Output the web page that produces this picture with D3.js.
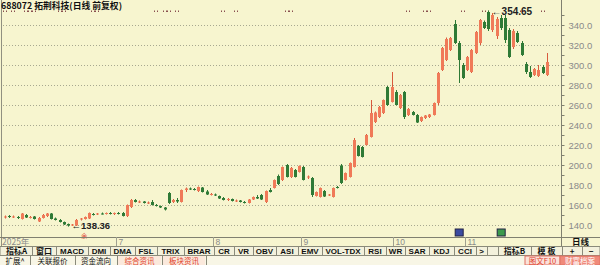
<!DOCTYPE html>
<meta charset="utf-8">
<style>
body { margin: 0; background: #f7f5cf; }
svg { display: block; font-family: "Liberation Sans", Arial, sans-serif; }
.cn { font-family: "Noto Sans CJK SC", sans-serif; }
</style>
<body>
<svg id="chart"></svg>
<script src="https://d3js.org/d3.v7.min.js"></script>
<script>

var width = 600,
    height = 265;

// trading calendar (weekdays minus exchange holidays)
var startDate = "2025-05-22",
    endDate = "2025-11-28";
var holidays = ["2025-06-02", "2025-10-01", "2025-10-02", "2025-10-03", "2025-10-06", "2025-10-07", "2025-10-08"];

var opens  = [148,149,148,148,146,150,147.5,148.5,143.5,147,149,151.5,146.5,145,143,141,139.5,139.5,145.5,146,
              146.5,151,150.5,151.5,151,152,151,152,152,149,158,165,163,163.5,162,163,160,159,157.5,172,
              163,165,163,175,176.5,176,174,177.5,173.5,170.5,170.5,169,167,165,166,164,164.5,163,162,165.5,
              168,170,163,175,177,189,185,200,188,195,193,198,188,187,169,168,174,170,168,178,
              199.5,185,188,198,219,218,220,228,243,248,252,278,263,273,257,273,250,253,250,244,
              247,248,250,262,295,305,315,341,322,300,295,293,312,322,343,353,335,329,347,347,
              335,318,332,322,301,293,290,289,298,290];
var highs  = [149.5,150,149.5,149,152,151,149,149,148,151,152,152,147.5,146,143.5,141.5,141,146,147,148.5,
              152.5,152,152,152.5,152.5,153,152.5,153,153,160.5,166,166,164.5,164,163.5,165,161,159.5,158,173,
              166,167,175.5,177.5,177.5,177,178.5,178,175,172,171.5,169.5,168,167,166.5,165.5,165,164,166,168.5,
              170,171,174.5,177,185.5,190.5,198.5,201,198,196,199.5,199,189.5,188,173.5,177.5,175,171,177.5,179,
              201,192.5,202.5,227,220,219,231,265,253.5,259,265.5,279,293,275,271,274,257,254,251,248.5,
              250,251,262.5,293,318,327.5,328,345,324,302,309,316,334,346,344.5,354.65,352,348,350,350,
              337,336,334,324,303,299,297,300,300,312];
var lows   = [146.5,147,147,146,145.5,147,146.5,145.5,143,146.5,148,145.5,144.5,142.5,140,138.36,139,139,144.5,145.5,
              146,149.5,150,150.5,150.5,150.5,150,150.5,148.5,148,157,162.5,162,161.5,161,159.5,158.5,157,154.5,161,
              162,162,162.5,173,175,174.5,173,172.5,170,169.5,169,166,164.5,164,163.5,163,162.5,161.5,161.5,165,
              166,165,162,172.5,176.5,180,184,187.5,187,187.5,192.5,184.5,186,168,168.5,167.5,168,169,167.5,176.5,
              181,184.5,187.5,197.5,208.5,207.5,219.5,227.5,242,247,251,259,262.5,259.5,256,246,249,249.5,242,243,
              246,247,249.5,260,294,304,314,321,282,286,294,292,311,320,336,334,333,326,335,322,
              307,316,322,309,291,287,289,288,291,289];
var closes = [148.5,148,148.5,147.5,151.5,147.5,148,146,147,150,151.5,146,145,143,140.5,139.5,140.5,145,146.5,148,
              152,150.5,151.5,151,152,151,152,151,149,160,165,163,163.5,162,162.5,160,159,157.5,155.5,162,
              165,163.5,175,176.5,176,175.5,178,173,170.5,171,169.5,166.5,165,166,164,164.5,163,162.5,165.5,168,
              166.5,165.5,174,173,185,181,198,188,197,188,199,185,188.5,170,173,177,168.5,170.5,177,177.5,
              182,192,202,225,209,208,230,252,252.5,258,265,260,278,260,270,248,256,250,242.5,248,
              249.5,250.5,262,292,317,326,327,322,305,287,308,315,333,345,337,336,350,346,337,325,
              308,334,323,310,293,288,296,295,292,303];

var yTicks = [140, 160, 180, 200, 220, 240, 260, 280, 300, 320, 340];
var infoMarks = [0, 2, 5, 6, 7, 13, 14, 21, 22, 36, 38, 39, 41, 52, 55, 67, 68, 96, 100, 101, 109, 114, 123, 128];
var btnRow = ["指标A", "窗口", "MACD", "DMI", "DMA", "FSL", "TRIX", "BRAR", "CR", "VR", "OBV", "ASI",
              "EMV", "VOL-TDX", "RSI", "WR", "SAR", "KDJ", "CCI", ">"];
var btnRight = ["指标B", "模 板", "+", "−"];
var tabRow = ["扩展^", "关联报价", "资金流向", "综合资讯", "板块资讯"];
var tabRight = ["图文F10", "财富档案"];

// build the trading day list
var dates = [];
var fmt = d3.timeFormat("%Y-%m-%d");
d3.timeDay.range(new Date(startDate + "T00:00"), d3.timeDay.offset(new Date(endDate + "T00:00"), 1)).forEach(function(d) {
  var wd = d.getDay();
  if (wd === 0 || wd === 6) return;
  if (holidays.indexOf(fmt(d)) >= 0) return;
  dates.push(d);
});

var data = dates.map(function(d, i) {
  return { date: d, i: i, o: opens[i], h: highs[i], l: lows[i], c: closes[i] };
});

var plotRight = 561,
    plotBottom = 237;

var x = d3.scaleBand()
    .domain(d3.range(data.length))
    .range([3, 3 + data.length * 4.2])
    .paddingInner(0.28)
    .paddingOuter(0.14);

var y = d3.scaleLinear()
    .domain([140, 340])
    .range([225, 25]);

var red = "#f07a58", redEdge = "#d85a3c", green = "#2f7a36";

var svg = d3.select("#chart")
    .attr("width", width)
    .attr("height", height);

svg.append("rect")
    .attr("width", width)
    .attr("height", height)
    .attr("fill", "#f7f5cf");

// grid
svg.append("g")
  .selectAll("line")
  .data(yTicks)
  .enter().append("line")
    .attr("x1", 3)
    .attr("x2", plotRight)
    .attr("y1", function(d) { return Math.round(y(d)) + 0.5; })
    .attr("y2", function(d) { return Math.round(y(d)) + 0.5; })
    .attr("stroke", "#a8a890")
    .attr("stroke-width", 1)
    .attr("stroke-dasharray", "1,2");

// left border + right axis
svg.append("line")
    .attr("x1", 1.5).attr("x2", 1.5)
    .attr("y1", 0).attr("y2", height)
    .attr("stroke", "#909080");

var yAxis = d3.axisRight(y)
    .tickValues(d3.range(140, 351, 10))
    .tickSize(3)
    .tickFormat(function(d) { return d % 20 === 0 ? d.toFixed(1) : ""; });

var ax = svg.append("g")
    .attr("transform", "translate(" + (plotRight + 0.5) + ",0)")
    .call(yAxis);
ax.select(".domain").remove();
ax.append("line")
    .attr("y1", 0).attr("y2", plotBottom + 9)
    .attr("stroke", "#808070");
ax.selectAll(".tick line").attr("stroke", "#808070");
ax.selectAll(".tick text")
    .attr("x", 7)
    .attr("fill", "#8a8a8a")
    .attr("font-size", 9.5)
    .attr("font-family", "'Liberation Sans', Arial, sans-serif");

// candles
var candles = svg.append("g")
  .selectAll("g")
  .data(data)
  .enter().append("g");

candles.append("line")
    .attr("x1", function(d) { return Math.round(x(d.i) + x.bandwidth() / 2) + 0.5; })
    .attr("x2", function(d) { return Math.round(x(d.i) + x.bandwidth() / 2) + 0.5; })
    .attr("y1", function(d) { return y(d.h); })
    .attr("y2", function(d) { return y(d.l); })
    .attr("stroke", function(d) { return d.c >= d.o ? redEdge : green; });

candles.append("rect")
    .attr("x", function(d) { return Math.round(x(d.i) + x.bandwidth() / 2) - 1; })
    .attr("width", 3)
    .attr("y", function(d) { return y(Math.max(d.o, d.c)); })
    .attr("height", function(d) { return Math.max(1, Math.abs(y(d.o) - y(d.c))); })
    .attr("fill", function(d) { return d.c >= d.o ? red : green; });

// high / low labels
var hiIdx = d3.maxIndex(data, function(d) { return d.h; }),
    loIdx = d3.minIndex(data, function(d) { return d.l; });

svg.append("text")
    .attr("x", x(hiIdx) + 5)
    .attr("y", y(data[hiIdx].h) + 5)
    .attr("font-size", 10)
    .attr("font-weight", "bold")
    .attr("fill", "#222")
    .text("←" + data[hiIdx].h.toFixed(2));

svg.append("text")
    .attr("x", x(loIdx) + 5)
    .attr("y", y(data[loIdx].l) + 2.5)
    .attr("font-size", 9.5)
    .attr("font-weight", "bold")
    .attr("fill", "#222")
    .text("←" + data[loIdx].l.toFixed(2));

// info markers on top (little dot pairs)
var marks = svg.append("g").attr("fill", "#8a5050");
infoMarks.forEach(function(d) {
  var cx = Math.round(x(d) + x.bandwidth() / 2);
  marks.append("rect").attr("x", cx - 2).attr("y", 10.5).attr("width", 1).attr("height", 1.5);
  marks.append("rect").attr("x", cx + 1).attr("y", 10.5).attr("width", 1).attr("height", 1.5);
});

svg.append("text")
    .attr("class", "cn")
    .attr("x", x(18) + 2)
    .attr("y", 238)
    .attr("font-size", 6)
    .attr("fill", "#e04030")
    .text("余");

[{ i: 108, c: "#3a4aa0" }, { i: 118, c: "#3c9a4c" }].forEach(function(m) {
  svg.append("rect")
      .attr("x", x(m.i) - 2)
      .attr("y", 229)
      .attr("width", 8)
      .attr("height", 7)
      .attr("fill", m.c)
      .attr("stroke", "#224");
});

// title
svg.append("text")
    .attr("class", "cn")
    .attr("x", 1)
    .attr("y", 9)
    .attr("font-size", 8.8)
    .attr("font-weight", "bold")
    .attr("fill", "#111")
    .text("688072 拓荆科技(日线 前复权)");

// date row
svg.append("line")
    .attr("x1", 0).attr("x2", width)
    .attr("y1", plotBottom + 0.5).attr("y2", plotBottom + 0.5)
    .attr("stroke", "#808070");

var monthStarts = data.filter(function(d, i) {
  return i === 0 || d.date.getMonth() !== data[i - 1].date.getMonth();
}).filter(function(d) { return d.date.getMonth() >= 6; });

var dateRow = svg.append("g").attr("fill", "#8a8a8a").attr("font-size", 8.5);
dateRow.append("text")
    .attr("class", "cn")
    .attr("x", 2)
    .attr("y", 244.5)
    .text(d3.timeFormat("%Y")(data[0].date) + "年");

monthStarts.forEach(function(d) {
  var xx = Math.round(x(d.i)) - 0.5;
  dateRow.append("line")
      .attr("x1", xx).attr("x2", xx)
      .attr("y1", plotBottom).attr("y2", 246)
      .attr("stroke", "#a0a090");
  dateRow.append("text")
      .attr("x", xx + 2)
      .attr("y", 244.5)
      .text(d.date.getMonth() + 1);
});

svg.append("text")
    .attr("class", "cn")
    .attr("x", 572)
    .attr("y", 244.5)
    .attr("font-size", 8.5)
    .attr("font-weight", "bold")
    .attr("fill", "#111")
    .text("日线");

// button row
svg.append("rect")
    .attr("x", 0).attr("y", 246.5)
    .attr("width", width).attr("height", 9)
    .attr("fill", "#f3f1dc")
    .attr("stroke", "#8a8a7a");

var btnX = [1, 32, 56, 88, 110, 135, 157, 184, 214, 234, 253, 276, 298, 322, 364, 386, 405, 429, 454, 476, 487];
btnRow.forEach(function(t, i) {
  svg.append("text")
      .attr("class", /[^\x00-\x7f]/.test(t) ? "cn" : null)
      .attr("x", (btnX[i] + btnX[i + 1]) / 2)
      .attr("y", 254)
      .attr("text-anchor", "middle")
      .attr("font-size", 8)
      .attr("font-weight", "bold")
      .attr("fill", "#111")
      .text(t);
  svg.append("line")
      .attr("x1", btnX[i + 1] + 0.5).attr("x2", btnX[i + 1] + 0.5)
      .attr("y1", 246.5).attr("y2", 255.5)
      .attr("stroke", "#8a8a7a");
});

var btnRX = [498, 531, 562, 582, 600];
btnRight.forEach(function(t, i) {
  svg.append("text")
      .attr("class", "cn")
      .attr("x", (btnRX[i] + btnRX[i + 1]) / 2)
      .attr("y", 254)
      .attr("text-anchor", "middle")
      .attr("font-size", 8)
      .attr("font-weight", "bold")
      .attr("fill", "#111")
      .text(t);
  svg.append("line")
      .attr("x1", btnRX[i] + 0.5).attr("x2", btnRX[i] + 0.5)
      .attr("y1", 246.5).attr("y2", 255.5)
      .attr("stroke", "#8a8a7a");
});

// tab row
svg.append("rect")
    .attr("x", 0).attr("y", 256)
    .attr("width", width).attr("height", 9)
    .attr("fill", "#f8f6e6");

var tabX = [0, 30, 75, 117, 162, 206];
tabRow.forEach(function(t, i) {
  var hot = i >= 3;
  if (hot) {
    svg.append("rect")
        .attr("x", tabX[i] + 1).attr("y", 256)
        .attr("width", tabX[i + 1] - tabX[i] - 2).attr("height", 9)
        .attr("fill", "#fbe9dc");
  }
  svg.append("text")
      .attr("class", "cn")
      .attr("x", (tabX[i] + tabX[i + 1]) / 2)
      .attr("y", 264)
      .attr("text-anchor", "middle")
      .attr("font-size", 7.5)
      .attr("fill", hot ? "#e0402a" : "#111")
      .text(t);
  svg.append("line")
      .attr("x1", tabX[i + 1] + 0.5).attr("x2", tabX[i + 1] + 0.5)
      .attr("y1", 256).attr("y2", 265)
      .attr("stroke", "#8a8a7a");
});

var tabRX = [525, 560, 600];
tabRight.forEach(function(t, i) {
  svg.append("rect")
      .attr("x", tabRX[i]).attr("y", 256)
      .attr("width", tabRX[i + 1] - tabRX[i]).attr("height", 9)
      .attr("fill", i ? "#f08a7a" : "#fbe2da")
      .attr("stroke", "#e07060");
  svg.append("text")
      .attr("class", "cn")
      .attr("x", (tabRX[i] + tabRX[i + 1]) / 2)
      .attr("y", 264)
      .attr("text-anchor", "middle")
      .attr("font-size", 7.5)
      .attr("fill", i ? "#fff" : "#e0402a")
      .text(t);
});

</script>
</body>
